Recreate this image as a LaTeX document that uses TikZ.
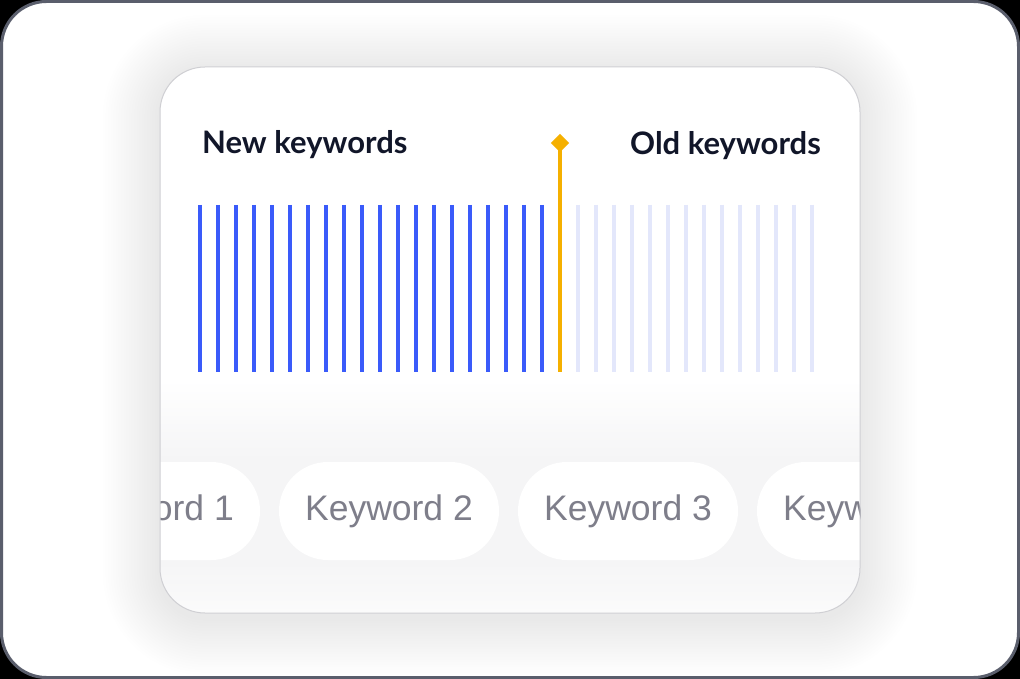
\documentclass[tikz,border=0pt]{standalone}
\usepackage{fontspec}
\setmainfont{Lato}
\newfontfamily\pillfont{Liberation Sans}
\usetikzlibrary{positioning}
\definecolor{ink}{HTML}{111629}
\definecolor{newbar}{HTML}{3A5BFA}
\definecolor{oldbar}{HTML}{E3E7FB}
\definecolor{marker}{HTML}{F5B000}
\definecolor{pilltext}{HTML}{7E7E8A}
\definecolor{band}{HTML}{F5F5F6}
\definecolor{cardedge}{HTML}{CFCFD3}
\definecolor{frameedge}{HTML}{5A5E6C}
\tikzset{head/.style={font=\bfseries\fontsize{31}{33}\selectfont,text=ink,inner sep=0pt},
  pill/.style={fill=white,rounded corners=49pt,minimum width=220pt,minimum height=98pt,inner sep=0pt,text=pilltext,font=\pillfont\fontsize{35.5}{38}\selectfont},
  newline/.style={draw=newbar,line width=4pt},
  oldline/.style={draw=oldbar,line width=4pt}}

\begin{document}
\begin{tikzpicture}[x=1pt,y=-1pt]
% outer frame
\fill[black] (0,0) rectangle (1020,679);
\draw[fill=white,draw=frameedge,line width=3pt,rounded corners=45pt] (1.5,1.5) rectangle (1018.5,677.5);
% soft shadow round the card
\foreach \s in {1,...,22}{
  \pgfmathsetmacro\rr{45+2.6*\s}
  \fill[black,opacity=0.0042,rounded corners=\rr pt] (160-2.6*\s,72-2.6*\s) rectangle (860+2.6*\s,618+2.6*\s);
}
% card
\path[fill=white,rounded corners=45pt] (160,67) rectangle (860,613);
\begin{scope}
  \clip[rounded corners=45pt] (160,67) rectangle (860,613);
  \shade[top color=white,bottom color=band] (160,380) rectangle (860,460);
  \fill[band] (160,460) rectangle (860,562);
  \shade[top color=band,bottom color=white!60!band] (160,562) rectangle (860,613);
  \node[pill] (k1) at (150,511) {Keyword 1};
  \node[pill] (k2) at (389,511) {Keyword 2};
  \node[pill] (k3) at (628,511) {Keyword 3};
  \node[pill] (k4) at (867,511) {Keyword 4};
\end{scope}
\draw[cardedge,line width=1pt,rounded corners=45pt] (160,67) rectangle (860,613);
% headings
\node[head,anchor=west] (newkw) at (202,145) {New keywords};
\node[head,anchor=east] (oldkw) at (821,146) {Old keywords};
% bars
\foreach \i in {0,...,19}\draw[newline] (200+18*\i,205) -- (200+18*\i,372);
\foreach \i in {0,...,13}\draw[oldline] (578+18*\i,205) -- (578+18*\i,372);
% split marker
\node[fill=marker,minimum size=13pt,inner sep=0pt,rotate=45] (tip) at (560,143) {};
\draw[marker,line width=4pt] (tip.center) -- (560,372);
\end{tikzpicture}
\end{document}
